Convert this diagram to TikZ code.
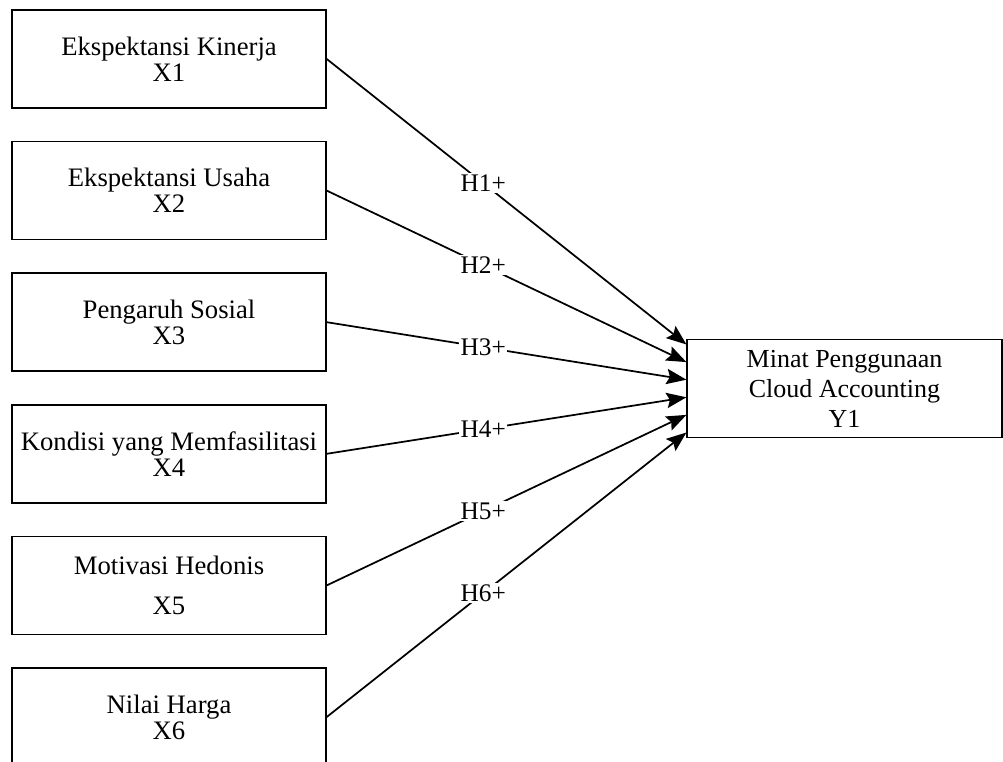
\documentclass[tikz,border=0pt]{standalone}
\usepackage{fontspec}
\setmainfont{Liberation Serif}
\usetikzlibrary{positioning,arrows.meta}

\begin{document}
\begin{tikzpicture}[x=0.75pt,y=-0.75pt,node distance=98.7pt,on grid]
    \tikzset{varbox/.style={draw,rectangle,line width=1.1pt,minimum width=235.5pt,minimum height=73.5pt,align=center,inner sep=0pt,font=\fontsize{20}{19.5}\selectfont}}
    \tikzset{hyp/.style={pos=0.435,fill=white,inner sep=1pt,font=\fontsize{19}{19}\selectfont}}
    \tikzset{link/.style={draw,line width=1.3pt,-{Stealth[length=15pt,width=11.5pt,inset=2.5pt]}}}
    \useasboundingbox (0,0) rectangle (1003,762);
    \node[varbox] (x1) at (169,59) {Ekspektansi Kinerja\\X1};
    \node[varbox] (x2) [below = of x1] {Ekspektansi Usaha\\X2};
    \node[varbox] (x3) [below = of x2] {Pengaruh Sosial\\X3};
    \node[varbox] (x4) [below = of x3] {Kondisi yang Memfasilitasi\\X4};
    \node[varbox] (x5) [below = of x4] {Motivasi Hedonis\\[10pt]X5};
    \node[varbox] (x6) [below = of x5] {Nilai Harga\\X6};
    \node[varbox,minimum width=236pt,font=\fontsize{19.5}{22.5}\selectfont] (y1) at (844.5,388.5) {Minat Penggunaan\\Cloud Accounting\\Y1};
    \coordinate (t1) at ([yshift=33pt]y1.west);
    \coordinate (t2) at ([yshift=19.8pt]y1.west);
    \coordinate (t3) at ([yshift=6.6pt]y1.west);
    \coordinate (t4) at ([yshift=-6.6pt]y1.west);
    \coordinate (t5) at ([yshift=-19.8pt]y1.west);
    \coordinate (t6) at ([yshift=-33pt]y1.west);
    \path
    (x1.east) edge [link] node [hyp] {H1+} (t1)
    (x2.east) edge [link] node [hyp] {H2+} (t2)
    (x3.east) edge [link] node [hyp] {H3+} (t3)
    (x4.east) edge [link] node [hyp] {H4+} (t4)
    (x5.east) edge [link] node [hyp] {H5+} (t5)
    (x6.east) edge [link] node [hyp] {H6+} (t6)
    ;
  \end{tikzpicture}
\end{document}
